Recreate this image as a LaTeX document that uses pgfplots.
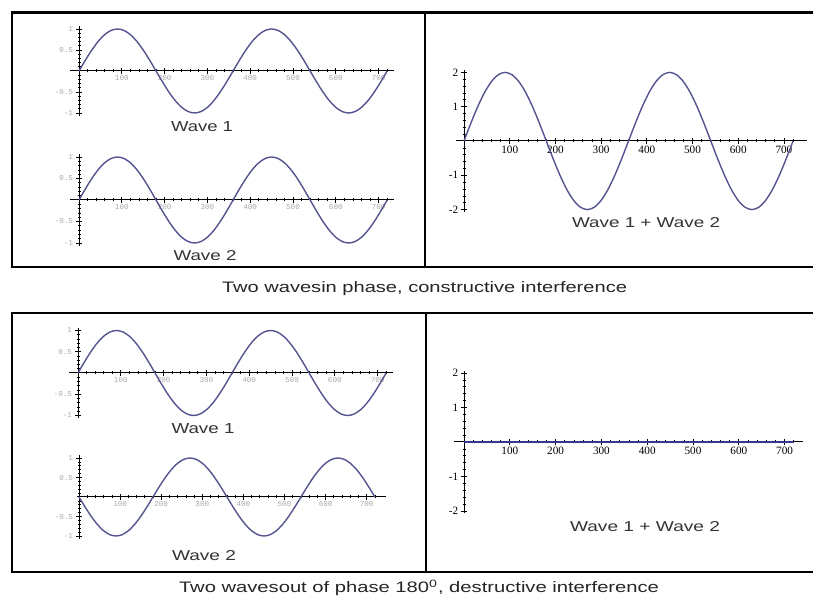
\documentclass[border=0pt]{standalone}
\usepackage{pgfplots}
\pgfplotsset{compat=1.18}
\usepackage{pgfplotstable}
\usepackage{fontspec}
\setmainfont{Liberation Sans}
\newfontfamily\monofont{Liberation Mono}
\newfontfamily\seriffont{Liberation Serif}
\definecolor{wavec}{RGB}{84,84,145}
\definecolor{flatc}{RGB}{50,58,140}
\definecolor{tickg}{RGB}{170,170,170}

\pgfplotstableread{
x s ns ds z
0 0 0 0 0
15 0.2588 -0.2588 0.5176 0
30 0.5 -0.5 1.0 0
45 0.7071 -0.7071 1.4142 0
60 0.8660 -0.8660 1.7321 0
75 0.9659 -0.9659 1.9319 0
90 1 -1 2 0
105 0.9659 -0.9659 1.9319 0
120 0.8660 -0.8660 1.7321 0
135 0.7071 -0.7071 1.4142 0
150 0.5 -0.5 1.0 0
165 0.2588 -0.2588 0.5176 0
180 0 0 0 0
195 -0.2588 0.2588 -0.5176 0
210 -0.5 0.5 -1.0 0
225 -0.7071 0.7071 -1.4142 0
240 -0.8660 0.8660 -1.7321 0
255 -0.9659 0.9659 -1.9319 0
270 -1 1 -2 0
285 -0.9659 0.9659 -1.9319 0
300 -0.8660 0.8660 -1.7321 0
315 -0.7071 0.7071 -1.4142 0
330 -0.5 0.5 -1.0 0
345 -0.2588 0.2588 -0.5176 0
360 0 0 0 0
375 0.2588 -0.2588 0.5176 0
390 0.5 -0.5 1.0 0
405 0.7071 -0.7071 1.4142 0
420 0.8660 -0.8660 1.7321 0
435 0.9659 -0.9659 1.9319 0
450 1 -1 2 0
465 0.9659 -0.9659 1.9319 0
480 0.8660 -0.8660 1.7321 0
495 0.7071 -0.7071 1.4142 0
510 0.5 -0.5 1.0 0
525 0.2588 -0.2588 0.5176 0
540 0 0 0 0
555 -0.2588 0.2588 -0.5176 0
570 -0.5 0.5 -1.0 0
585 -0.7071 0.7071 -1.4142 0
600 -0.8660 0.8660 -1.7321 0
615 -0.9659 0.9659 -1.9319 0
630 -1 1 -2 0
645 -0.9659 0.9659 -1.9319 0
660 -0.8660 0.8660 -1.7321 0
675 -0.7071 0.7071 -1.4142 0
690 -0.5 0.5 -1.0 0
705 -0.2588 0.2588 -0.5176 0
720 0 0 0 0
}\wavedata

\pgfplotsset{
  base/.style={
    axis lines*=middle,
    axis line style={black, line width=0.5pt, -},
    clip=false,
    anchor=origin,
    tick align=center,
    tick style={black, line width=0.35pt},
    xtick={100,200,...,700},
    minor xtick={20,40,60,80,120,140,160,180,220,240,260,280,320,340,360,380,420,440,460,480,520,540,560,580,620,640,660,680,720},
    /pgf/number format/assume math mode=true,
  },
  small/.style={
    base,
    ymin=-1.07, ymax=1.07,
    ytick={-1,-0.5,0.5,1},
    minor ytick={-0.9,-0.8,-0.7,-0.6,-0.4,-0.3,-0.2,-0.1,0.1,0.2,0.3,0.4,0.6,0.7,0.8,0.9},
    major tick length=2.6pt,
    minor tick length=1.5pt,
    xticklabel style={font=\monofont\fontsize{3.8}{4}\selectfont, text=tickg, inner sep=0.6pt},
    yticklabel style={font=\monofont\fontsize{3.8}{4}\selectfont, text=tickg, inner sep=1.5pt},
  },
  big/.style={
    base,
    ymin=-2.06, ymax=2.06,
    ytick={-2,-1,1,2},
    minor ytick={-1.8,-1.6,-1.4,-1.2,-0.8,-0.6,-0.4,-0.2,0.2,0.4,0.6,0.8,1.2,1.4,1.6,1.8},
    major tick length=3pt,
    minor tick length=1.5pt,
    xticklabel style={font=\seriffont\fontsize{5.6}{6}\selectfont, text=black, inner sep=0.8pt},
    yticklabel style={font=\seriffont\fontsize{5.6}{6}\selectfont, text=black, inner sep=1.2pt},
  },
  wv/.style={color=wavec, line width=0.7pt, smooth, no marks},
}

\newcommand\lab[3]{\resizebox{#1}{#2}{#3}}

\begin{document}
\begin{tikzpicture}
\clip (0,0) rectangle (406.5pt,299.5pt);
\fill[white] (0,0) rectangle (406.5pt,299.5pt);

% frames
\draw[line width=1.3pt] (6pt,293.25pt) -- (410pt,293.25pt);
\draw[line width=1.3pt] (6pt,166pt) -- (410pt,166pt);
\draw[line width=1.3pt] (6pt,293.9pt) -- (6pt,165.35pt);
\draw[line width=0.8pt] (212.5pt,293.25pt) -- (212.5pt,166pt);

\draw[line width=1.3pt] (6pt,143pt) -- (410pt,143pt);
\draw[line width=1.3pt] (6pt,13.5pt) -- (410pt,13.5pt);
\draw[line width=1.3pt] (6pt,143.65pt) -- (6pt,12.85pt);
\draw[line width=0.8pt] (213pt,143pt) -- (213pt,13.5pt);

% top-left wave 1
\begin{axis}[small, at={(39.5pt,264pt)}, x=0.214pt, y=21pt, xmin=-21, xmax=737]
\addplot[wv] table[x=x,y=s]{\wavedata};
\end{axis}
% top-left wave 2
\begin{axis}[small, at={(39.5pt,199.5pt)}, x=0.214pt, y=21.5pt, xmin=-21, xmax=737]
\addplot[wv] table[x=x,y=s]{\wavedata};
\end{axis}
% top-right sum
\begin{axis}[big, at={(232pt,229pt)}, x=0.2285pt, y=17.15pt, xmin=-17, xmax=750]
\addplot[wv] table[x=x,y=ds]{\wavedata};
\end{axis}
% bottom-left wave 1
\begin{axis}[small, at={(39pt,113pt)}, x=0.214pt, y=21.25pt, xmin=-21, xmax=737]
\addplot[wv] table[x=x,y=s]{\wavedata};
\end{axis}
% bottom-left wave 2 (inverted)
\begin{axis}[small, at={(39.5pt,51pt)}, x=0.2055pt, y=19.5pt, xmin=-5, xmax=747]
\addplot[wv] table[x=x,y=ns]{\wavedata};
\end{axis}
% bottom-right sum
\begin{axis}[big, at={(232pt,78.5pt)}, x=0.229pt, y=17.25pt, xmin=-22, xmax=740]
\addplot[color=flatc, line width=1.2pt, no marks] table[x=x,y=z]{\wavedata};
\end{axis}

% labels
\node[anchor=base, inner sep=0pt, text=black!80] at (101pt,233.5pt) {\lab{31pt}{5pt}{Wave 1}};
\node[anchor=base, inner sep=0pt, text=black!80] at (102.5pt,169pt) {\lab{31.5pt}{5pt}{Wave 2}};
\node[anchor=base, inner sep=0pt, text=black!80] at (323pt,185.5pt) {\lab{74pt}{5pt}{Wave 1 + Wave 2}};
\node[anchor=base, inner sep=0pt, text=black!85] at (212.25pt,153pt) {\lab{202.5pt}{5.5pt}{Two wavesin phase, constructive interference}};

\node[anchor=base, inner sep=0pt, text=black!80] at (101.5pt,82.5pt) {\lab{31.5pt}{5pt}{Wave 1}};
\node[anchor=base, inner sep=0pt, text=black!80] at (102pt,19pt) {\lab{32pt}{5pt}{Wave 2}};
\node[anchor=base, inner sep=0pt, text=black!80] at (322.5pt,33.5pt) {\lab{75pt}{5pt}{Wave 1 + Wave 2}};
\node[anchor=base, inner sep=0pt, text=black!85] at (209.5pt,3pt) {\lab{240pt}{5.5pt}{Two wavesout of phase 180\smash{\textsuperscript{0}}, destructive interference}};
\end{tikzpicture}
\end{document}
